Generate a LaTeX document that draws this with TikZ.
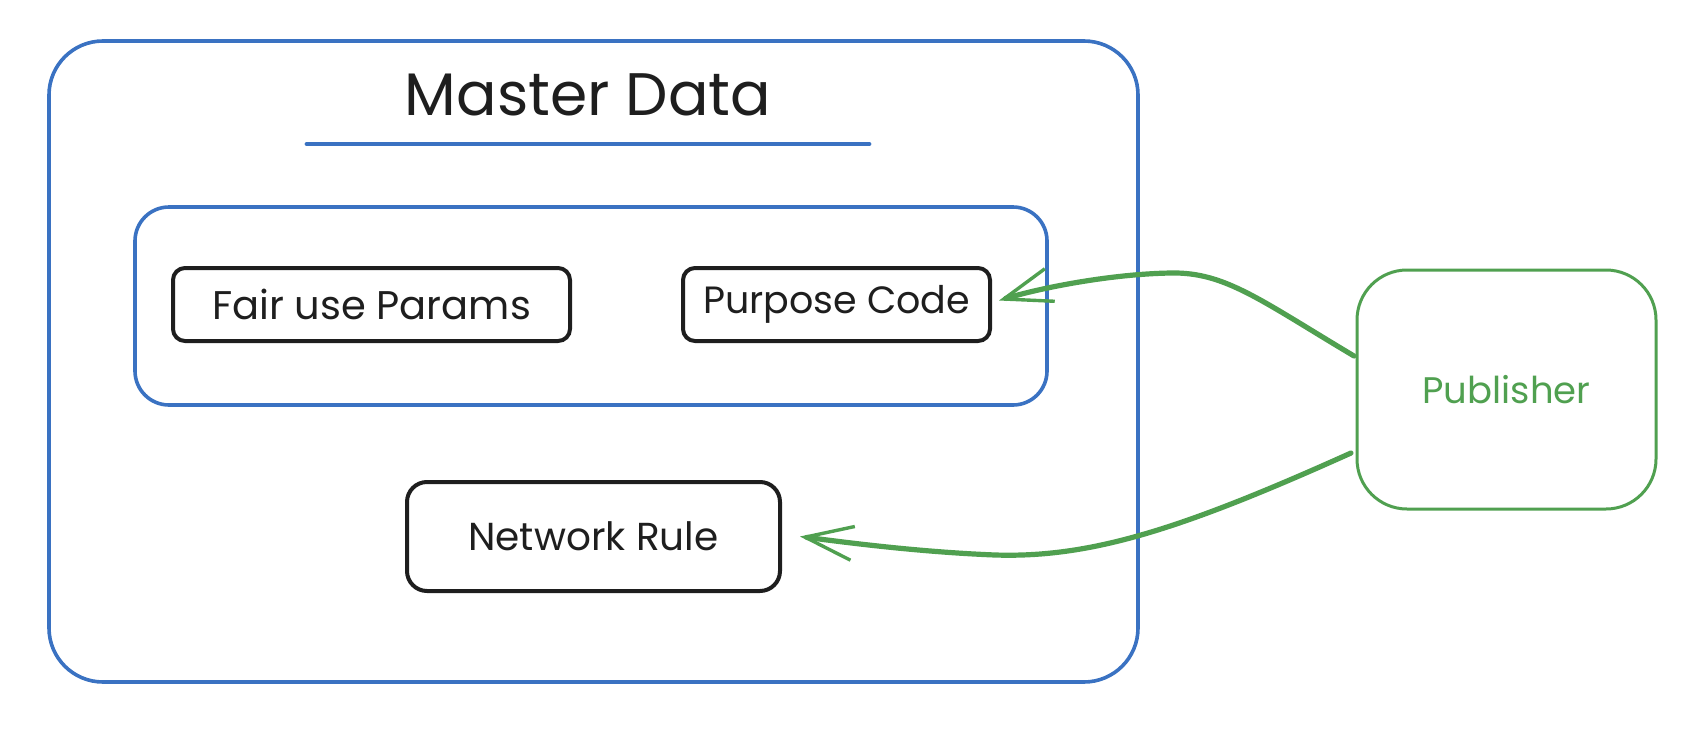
\documentclass[tikz,border=0pt]{standalone}
\usepackage{fontspec}
\setmainfont{Poppins}
\usetikzlibrary{arrows.meta}
\definecolor{xblue}{RGB}{58,114,194}
\definecolor{xgreen}{RGB}{80,160,80}
\definecolor{xblack}{RGB}{30,30,30}
\tikzset{
  bluebox/.style={draw=xblue, line width=1.8pt, rounded corners=#1, rectangle, inner sep=0pt},
  blackbox/.style={draw=xblack, line width=2pt, rounded corners=#1, rectangle, inner sep=0pt, text=xblack},
  greenbox/.style={draw=xgreen, line width=1.5pt, rounded corners=25pt, rectangle, inner sep=0pt, text=xgreen, font=\fontsize{18.5}{22}\selectfont},
  conn/.style={draw=xgreen, line width=2.6pt, line cap=round, -{Straight Barb[length=24pt,width=17pt,line width=1.7pt]}}
}
\begin{document}
\begin{tikzpicture}[x=0.5pt,y=-0.5pt]
\useasboundingbox (0,0) rectangle (1692,744);
\node[bluebox=27pt, minimum width=544.5pt, minimum height=320.5pt] (master) at (593.5,361.5) {};
\node[text=xblack, font=\fontsize{30}{36}\selectfont] (title) at (588,95) {Master Data};
\coordinate (ul1) at (307,144);
\coordinate (ul2) at (869,144);
\draw[xblue, line width=2.4pt, line cap=round] (ul1) -- (ul2);
\node[bluebox=17pt, minimum width=456pt, minimum height=99pt] (inner) at (591,306) {};
\node[blackbox=6pt, minimum width=198.5pt, minimum height=36.5pt, font=\fontsize{20}{24}\selectfont] (fair) at (371.5,304.5) {Fair use Params};
\node[blackbox=6pt, minimum width=153.5pt, minimum height=36.5pt, font=\fontsize{19}{23}\selectfont] (pc) at (836.5,304.5) {Purpose Code};
\node[blackbox=10pt, minimum width=186.5pt, minimum height=54.5pt, font=\fontsize{19.5}{23}\selectfont] (nr) at (593.5,536.5) {Network Rule};
\node[greenbox, minimum width=149.5pt, minimum height=119.5pt] (pub) at (1506.5,389.5) {Publisher};
\coordinate (s1) at (1354,356);
\coordinate (s2) at (1351,453);
\draw[conn] (s1) .. controls (1260,300) and (1225,272) .. (1171,273) .. controls (1110,274) and (1040,288) .. ([xshift=3.5pt,yshift=2pt]pc.east);
\draw[conn] (s2) .. controls (1180,530) and (1090,558) .. (995,555) .. controls (920,552) and (850,543) .. ([xshift=9pt]nr.east);
\end{tikzpicture}
\end{document}
